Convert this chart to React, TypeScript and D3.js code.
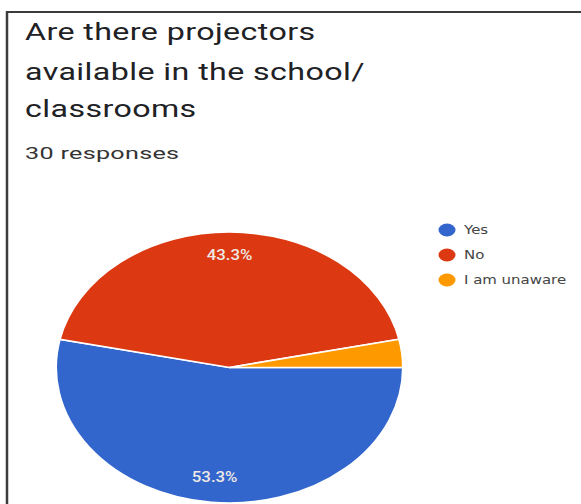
import React from "react";
import * as d3 from "d3";

const categories = ["Yes", "No", "I am unaware"];
const values = [16, 13, 1];
const colors = ["#3366cc", "#dc3912", "#ff9900"];
const titleLines = ["Are there projectors", "available in the school/", "classrooms"];
const subtitle = "30 responses";

// horizontal stretch of the original screenshot
const SX = 1.37;

export default function App() {
  const W = 581, H = 504;
  const cx = 229.5, cy = 367.5, rx = 173.5, ry = 135.5;
  const R = 100;
  const total = d3.sum(values);
  const pie = d3.pie<number>().sort(null).startAngle(Math.PI / 2).endAngle(Math.PI / 2 + 2 * Math.PI);
  const arcs = pie(values);
  const arc = d3.arc<d3.PieArcDatum<number>>().innerRadius(0).outerRadius(R);
  const labelArc = d3.arc<d3.PieArcDatum<number>>().innerRadius(R * 0.82).outerRadius(R * 0.82);
  const fmt = d3.format(".1%");
  const legendY = d3.scalePoint<string>().domain(categories).range([230, 280]);
  const titleBase = [39.5, 79.5, 116.5];

  return (
    <svg width={W} height={H} style={{ position: "absolute", left: 0, top: 0, background: "#fff" }}>
      <rect x={0} y={0} width={W} height={H} fill="#fff" />
      <line x1={7} y1={12} x2={W} y2={12} stroke="#3c3c3c" strokeWidth={2} />
      <line x1={7} y1={11} x2={7} y2={H} stroke="#3c3c3c" strokeWidth={2.5} />
      {titleLines.map((t, i) => (
        <g key={i} transform={`translate(25,${titleBase[i]}) scale(${SX},1)`}>
          <text x={0} y={0} fontFamily="Roboto, sans-serif" fontSize={23.5} fill="#202124" letterSpacing={0.3}>
            {t}
          </text>
        </g>
      ))}
      <g transform={`translate(25,159) scale(1.48,1)`}>
        <text x={0} y={0} fontFamily="Roboto, sans-serif" fontSize={17} fill="#333" letterSpacing={0.2}>
          {subtitle}
        </text>
      </g>
      <g transform={`translate(${cx},${cy}) scale(${rx / R},${ry / R})`}>
        {arcs.map((a, i) => (
          <path key={i} d={arc(a) || ""} fill={colors[i]} stroke="#fff" strokeWidth={1.2} />
        ))}
      </g>
      {arcs.map((a, i) => {
        if (a.data / total < 0.05) return null;
        const [lx, ly] = labelArc.centroid(a);
        return (
          <g key={i} transform={`translate(${cx + (lx * rx) / R},${cy + (ly * ry) / R}) scale(1.2,1)`}>
            <text
              x={0}
              y={0}
              textAnchor="middle"
              dominantBaseline="middle"
              fontFamily="Roboto, sans-serif"
              fontWeight={500}
              fontSize={14}
              fill="#eee8e4"
            >
              {fmt(a.data / total)}
            </text>
          </g>
        );
      })}
      {categories.map((c, i) => (
        <g key={c}>
          <ellipse cx={447} cy={legendY(c)} rx={8.5} ry={6.5} fill={colors[i]} />
          <g transform={`translate(464,${legendY(c)}) scale(1.15,1)`}>
            <text x={0} y={0} dominantBaseline="middle" fontFamily="'DejaVu Sans', sans-serif" fontSize={13} fill="#444">
              {c}
            </text>
          </g>
        </g>
      ))}
    </svg>
  );
}
